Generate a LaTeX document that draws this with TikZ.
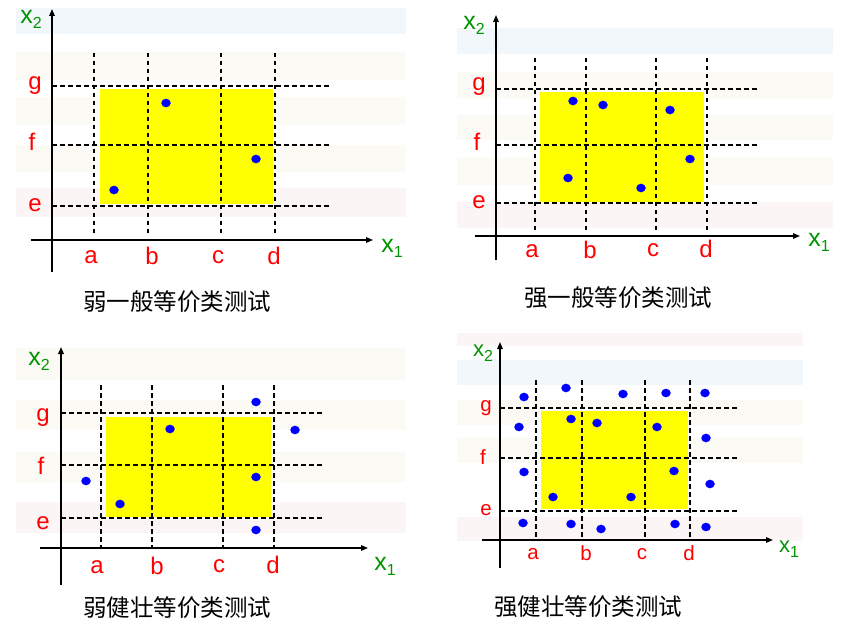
\documentclass[tikz,border=0pt]{standalone}
\usepackage{fontspec}
\setmainfont{Liberation Sans}
\newfontfamily\cjk{Noto Sans CJK SC}
\usetikzlibrary{arrows.meta,shapes.geometric}
\definecolor{lblred}{RGB}{255,0,0}
\definecolor{axgreen}{RGB}{0,150,0}
\definecolor{dotblue}{RGB}{0,0,255}
\definecolor{boxyellow}{RGB}{255,255,0}
\definecolor{bandblue}{RGB}{242,247,252}
\definecolor{bandbeige}{RGB}{251,250,245}
\definecolor{bandpink}{RGB}{252,245,245}
\newcommand{\axlab}[1]{x\raisebox{-5pt}{\fontsize{16}{16}\selectfont #1}}
\tikzset{
  axisline/.style={line width=1.5pt,-{Triangle[length=7pt,width=5.5pt]}},
  gridline/.style={dash pattern=on 4.5pt off 3.5pt,line width=1.1pt},
  yellowbox/.style={fill=boxyellow},
  dot/.style={ellipse,fill=dotblue,inner sep=0pt,minimum width=9.5pt,minimum height=8.6pt},
  lbl/.style={text=lblred,inner sep=0pt,font=\fontsize{24}{24}\selectfont},
  lblsmall/.style={text=lblred,inner sep=0pt,font=\fontsize{20.5}{20.5}\selectfont},
  axl/.style={text=axgreen,inner sep=0pt,font=\fontsize{25}{25}\selectfont},
  caption/.style={inner sep=0pt,font=\cjk\fontsize{23.5}{23.5}\selectfont}
}
\begin{document}
\begin{tikzpicture}[x=1pt,y=-1pt]
\useasboundingbox (0,0) rectangle (841,631);
\fill[white] (0,0) rectangle (841,631);
% ================= Panel 1 =================
\fill[bandblue] (16,8) rectangle (406,34);
\fill[bandbeige] (16,52) rectangle (406,80);
\fill[bandbeige] (16,97) rectangle (406,125);
\fill[bandbeige] (16,145) rectangle (406,172);
\fill[bandpink] (16,188) rectangle (406,217);
\fill[yellowbox] (100,89) rectangle (273,204);
\foreach \x in {94,148,221,275} \draw[gridline] (\x,53) -- (\x,237);
\foreach \y in {86,145,206} \draw[gridline] (52,\y) -- (330,\y);
\coordinate (p1xs) at (31,240); \coordinate (p1xe) at (373,240);
\coordinate (p1ys) at (52,272); \coordinate (p1ye) at (52,9);
\draw[axisline] (p1xs) -- (p1xe);
\draw[axisline] (p1ys) -- (p1ye);
\node[dot] (p1d1) at (166,103) {};
\node[dot] (p1d2) at (256,159) {};
\node[dot] (p1d3) at (114,190) {};
\node[lbl] (p1g) at (35,86) {g};
\node[lbl] (p1f) at (32,142) {f};
\node[lbl] (p1e) at (35,205) {e};
\node[lbl] (p1a) at (91,257) {a};
\node[lbl] (p1b) at (152,256) {b};
\node[lbl] (p1c) at (218,257) {c};
\node[lbl] (p1d) at (274,256) {d};
\node[axl] (p1x2) at (31,19) {\axlab{2}};
\node[axl] (p1x1) at (392,248) {\axlab{1}};
\node[caption] (p1cap) at (177,302) {弱一般等价类测试};
% ================= Panel 2 =================
\fill[bandblue] (457,28) rectangle (833,54);
\fill[bandbeige] (457,72) rectangle (833,98);
\fill[bandbeige] (457,115) rectangle (833,140);
\fill[bandbeige] (457,158) rectangle (833,185);
\fill[bandpink] (457,202) rectangle (833,228);
\fill[yellowbox] (540,92) rectangle (704,202);
\foreach \x in {535,586,656,707} \draw[gridline] (\x,58) -- (\x,233);
\foreach \y in {89,145,203} \draw[gridline] (496,\y) -- (759,\y);
\coordinate (p2xs) at (475,236); \coordinate (p2xe) at (800,236);
\coordinate (p2ys) at (496,260); \coordinate (p2ye) at (496,15);
\draw[axisline] (p2xs) -- (p2xe);
\draw[axisline] (p2ys) -- (p2ye);
\node[dot] (p2d1) at (573,101) {};
\node[dot] (p2d2) at (603,105) {};
\node[dot] (p2d3) at (670,110) {};
\node[dot] (p2d4) at (690,159) {};
\node[dot] (p2d5) at (568,178) {};
\node[dot] (p2d6) at (641,188) {};
\node[lbl] (p2g) at (479,87) {g};
\node[lbl] (p2f) at (477,142) {f};
\node[lbl] (p2e) at (479,202) {e};
\node[lbl] (p2a) at (532,251) {a};
\node[lbl] (p2b) at (590,250) {b};
\node[lbl] (p2c) at (653,250) {c};
\node[lbl] (p2d) at (706,249) {d};
\node[axl] (p2x2) at (474,25) {\axlab{2}};
\node[axl] (p2x1) at (819,242) {\axlab{1}};
\node[caption] (p2cap) at (618,298) {强一般等价类测试};
% ================= Panel 3 =================
\fill[bandbeige] (16,348) rectangle (406,380);
\fill[bandbeige] (16,400) rectangle (406,430);
\fill[bandbeige] (16,452) rectangle (406,482);
\fill[bandpink] (16,502) rectangle (406,533);
\fill[yellowbox] (106,417) rectangle (271,517);
\foreach \x in {101,152,223,274} \draw[gridline] (\x,385) -- (\x,547);
\foreach \y in {413,465,518} \draw[gridline] (61,\y) -- (325,\y);
\coordinate (p3xs) at (40,548); \coordinate (p3xe) at (368,548);
\coordinate (p3ys) at (61,585); \coordinate (p3ye) at (61,347);
\draw[axisline] (p3xs) -- (p3xe);
\draw[axisline] (p3ys) -- (p3ye);
\node[dot] (p3d1) at (256,402) {};
\node[dot] (p3d2) at (295,430) {};
\node[dot] (p3d3) at (170,429) {};
\node[dot] (p3d4) at (86,481) {};
\node[dot] (p3d5) at (256,477) {};
\node[dot] (p3d6) at (120,504) {};
\node[dot] (p3d7) at (256,530) {};
\node[lbl] (p3g) at (43,418) {g};
\node[lbl] (p3f) at (41,466) {f};
\node[lbl] (p3e) at (43,523) {e};
\node[lbl] (p3a) at (97,567) {a};
\node[lbl] (p3b) at (157,566) {b};
\node[lbl] (p3c) at (219,566) {c};
\node[lbl] (p3d) at (273,565) {d};
\node[axl] (p3x2) at (39,361) {\axlab{2}};
\node[axl] (p3x1) at (385,566) {\axlab{1}};
\node[caption] (p3cap) at (177,608) {弱健壮等价类测试};
% ================= Panel 4 =================
\fill[bandpink] (457,333) rectangle (803,346);
\fill[bandblue] (457,360) rectangle (803,385);
\fill[bandbeige] (457,400) rectangle (803,425);
\fill[bandbeige] (457,438) rectangle (803,463);
\fill[bandpink] (457,517) rectangle (803,541);
\fill[yellowbox] (541,411) rectangle (688,509);
\foreach \x in {536,582,645,690} \draw[gridline] (\x,380) -- (\x,537);
\foreach \y in {408,458,511} \draw[gridline] (500,\y) -- (737,\y);
\coordinate (p4xs) at (482,540); \coordinate (p4xe) at (773,540);
\coordinate (p4ys) at (500,568); \coordinate (p4ye) at (500,342);
\draw[axisline] (p4xs) -- (p4xe);
\draw[axisline] (p4ys) -- (p4ye);
\foreach \px/\py [count=\i] in {524/397,566/388,623/394,666/393,705/393,
  519/427,571/419,597/423,657/427,706/438,
  524/472,674/471,710/484,553/497,631/497,
  523/523,571/524,601/529,675/524,706/527}
  \node[dot] (p4d\i) at (\px,\py) {};
\node[lblsmall] (p4g) at (486,408) {g};
\node[lblsmall] (p4f) at (483,457) {f};
\node[lblsmall] (p4e) at (486,510) {e};
\node[lblsmall] (p4a) at (533,554) {a};
\node[lblsmall] (p4b) at (586,553) {b};
\node[lblsmall] (p4c) at (642,554) {c};
\node[lblsmall] (p4d) at (689,553) {d};
\node[axl,font=\fontsize{22}{22}\selectfont] (p4x2) at (483,353) {\axlab{2}};
\node[axl,font=\fontsize{22}{22}\selectfont] (p4x1) at (789,549) {\axlab{1}};
\node[caption] (p4cap) at (588,607) {强健壮等价类测试};
\end{tikzpicture}
\end{document}
